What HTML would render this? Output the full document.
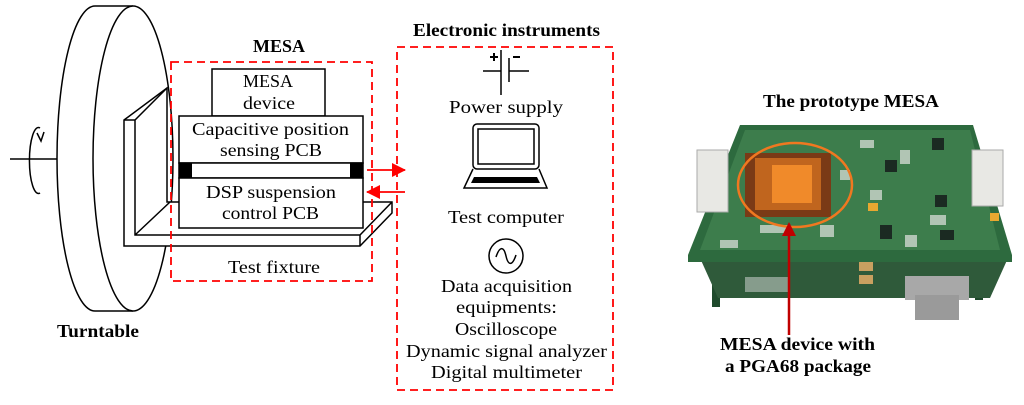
<!DOCTYPE html>
<html><head><meta charset="utf-8"><style>
body{margin:0;background:#fff;}
svg text{font-family:"Liberation Serif",serif;fill:#000;}
</style></head><body>
<svg width="1024" height="400" viewBox="0 0 1024 400" xmlns="http://www.w3.org/2000/svg">
<defs>
<marker id="ar" markerWidth="14" markerHeight="14" refX="13" refY="7" orient="auto" markerUnits="userSpaceOnUse"><path d="M0,0 L14,7 L0,14 Z" fill="#f00"/></marker>
<marker id="ar2" markerWidth="14" markerHeight="14" refX="12" refY="7" orient="auto" markerUnits="userSpaceOnUse"><path d="M0,0 L14,7 L0,14 Z" fill="#c00000"/></marker>
</defs>
<g fill="none" stroke="#000" stroke-width="1.5">
<path d="M95,6 L133,6 M95,311 L133,311"/>
<path d="M95,6 A38,152.5 0 0 0 95,311"/>
<ellipse cx="133" cy="158.5" rx="40" ry="152.5" fill="#fff"/>
<line x1="10" y1="159" x2="57" y2="159"/>
<path d="M40,128 A9,33 0 1 0 40,193" />
<path d="M37,133 L41,141 L44,132" />
<path d="M124,120 L167,88 L167,202 L392,202 L392,213 L360,246 L124,246 Z" fill="#fff"/>
<path d="M124,120 L135,120 L167,88 M135,120 L135,235 L360,235 L392,202 M135,235 L170,202 M360,235 L360,246"/>
<rect x="212" y="69" width="113" height="47" fill="#fff"/>
<rect x="179" y="116" width="184" height="47" fill="#fff"/>
<rect x="179" y="163" width="184" height="15" fill="#fff"/>
<rect x="179" y="178" width="184" height="50" fill="#fff"/>
</g>
<rect x="179" y="163" width="13" height="15" fill="#000"/>
<rect x="350" y="163" width="13" height="15" fill="#000"/>
<rect x="171" y="62" width="201" height="219" fill="none" stroke="#f00" stroke-width="1.8" stroke-dasharray="8,5"/>
<rect x="397" y="47" width="216" height="343" fill="none" stroke="#f00" stroke-width="1.8" stroke-dasharray="8,5"/>
<line x1="367" y1="170" x2="405" y2="170" stroke="#f00" stroke-width="1.8" marker-end="url(#ar)"/>
<line x1="405" y1="192" x2="367" y2="192" stroke="#f00" stroke-width="1.8" marker-end="url(#ar)"/>
<g font-size="18">
<text x="253" y="52" font-weight="bold" textLength="52" lengthAdjust="spacingAndGlyphs">MESA</text>
<text x="243" y="87" textLength="50" lengthAdjust="spacingAndGlyphs">MESA</text>
<text x="243" y="109" textLength="52" lengthAdjust="spacingAndGlyphs">device</text>
<text x="192" y="135" textLength="157" lengthAdjust="spacingAndGlyphs">Capacitive position</text>
<text x="220" y="156" textLength="102" lengthAdjust="spacingAndGlyphs">sensing PCB</text>
<text x="206" y="198" textLength="130" lengthAdjust="spacingAndGlyphs">DSP suspension</text>
<text x="222" y="219" textLength="97" lengthAdjust="spacingAndGlyphs">control PCB</text>
<text x="228" y="273" textLength="92" lengthAdjust="spacingAndGlyphs">Test fixture</text>
<text x="57" y="337" font-weight="bold" textLength="82" lengthAdjust="spacingAndGlyphs">Turntable</text>
<text x="413" y="36" font-weight="bold" textLength="187" lengthAdjust="spacingAndGlyphs">Electronic instruments</text>
<text x="449" y="113" textLength="114" lengthAdjust="spacingAndGlyphs">Power supply</text>
<text x="448" y="223" textLength="116" lengthAdjust="spacingAndGlyphs">Test computer</text>
<text x="441" y="292" textLength="131" lengthAdjust="spacingAndGlyphs">Data acquisition</text>
<text x="456" y="313" textLength="101" lengthAdjust="spacingAndGlyphs">equipments:</text>
<text x="455" y="335" textLength="102" lengthAdjust="spacingAndGlyphs">Oscilloscope</text>
<text x="406" y="357" textLength="201" lengthAdjust="spacingAndGlyphs">Dynamic signal analyzer</text>
<text x="431" y="378" textLength="151" lengthAdjust="spacingAndGlyphs">Digital multimeter</text>
<text x="763" y="107" font-weight="bold" textLength="176" lengthAdjust="spacingAndGlyphs">The prototype MESA</text>
<text x="720" y="350" font-weight="bold" textLength="155" lengthAdjust="spacingAndGlyphs">MESA device with</text>
<text x="725" y="372" font-weight="bold" textLength="146" lengthAdjust="spacingAndGlyphs">a PGA68 package</text>
</g>
<g stroke="#000" stroke-width="1.5" fill="none">
<line x1="483" y1="71" x2="501" y2="71"/><line x1="509" y1="71" x2="529" y2="71"/>
<line x1="501" y1="50" x2="501" y2="95"/><line x1="509" y1="58" x2="509" y2="82"/>
<line x1="490" y1="57" x2="498" y2="57" stroke-width="2"/><line x1="494" y1="53" x2="494" y2="61" stroke-width="2"/>
<line x1="513" y1="57" x2="520" y2="57" stroke-width="2"/>
<rect x="473" y="124" width="66" height="45" rx="4"/>
<rect x="478" y="129" width="56" height="35"/>
<path d="M473,169 L464,188 L547,188 L539,169"/>
</g>
<path d="M474,177 L537,177 L540,183 L471,183 Z" fill="#000"/>
<circle cx="506" cy="256" r="17" fill="none" stroke="#000" stroke-width="1.5"/>
<path d="M496,257 C500,245 504,247 506,256 C508,265 512,267 516,255" fill="none" stroke="#000" stroke-width="1.5"/>
<rect x="712" y="255" width="8" height="52" fill="#1f4a2c"/>
<rect x="975" y="250" width="8" height="50" fill="#1f4a2c"/>
<path d="M700,258 L1008,258 L990,298 L718,298 Z" fill="#2f5a3a"/>
<path d="M740,125 L973,125 L1012,255 L1012,262 L688,262 L688,255 Z" fill="#2d6a3e"/>
<path d="M745,130 L970,130 L1000,250 L700,250 Z" fill="#3d7d4c"/>
<g fill="#cfd8cf" opacity="0.8">
<rect x="860" y="140" width="14" height="8"/><rect x="900" y="150" width="10" height="14"/><rect x="870" y="190" width="12" height="10"/><rect x="930" y="215" width="16" height="10"/><rect x="760" y="225" width="30" height="8"/><rect x="820" y="225" width="14" height="12"/><rect x="840" y="170" width="10" height="10"/><rect x="905" y="235" width="12" height="12"/><rect x="720" y="240" width="18" height="8"/>
</g>
<g fill="#1b2a22"><rect x="932" y="138" width="12" height="12"/><rect x="935" y="195" width="12" height="12"/><rect x="940" y="230" width="14" height="10"/><rect x="880" y="225" width="12" height="14"/><rect x="885" y="160" width="12" height="12"/></g>
<rect x="697" y="150" width="31" height="62" fill="#e8e8e4" stroke="#aaa"/>
<rect x="972" y="150" width="31" height="56" fill="#e8e8e4" stroke="#aaa"/>
<rect x="745" y="153" width="86" height="64" fill="#7a3a16"/>
<rect x="755" y="158" width="66" height="52" fill="#c0651e"/>
<rect x="772" y="165" width="40" height="38" fill="#f08a2a"/>
<rect x="868" y="203" width="10" height="8" fill="#e8a830"/><rect x="990" y="213" width="9" height="8" fill="#e8a830"/>
<rect x="859" y="262" width="14" height="9" fill="#c9a060"/><rect x="859" y="275" width="14" height="9" fill="#c9a060"/>
<rect x="745" y="277" width="45" height="15" fill="#ddd" opacity="0.5"/>
<rect x="905" y="276" width="64" height="24" fill="#a8a8a8"/>
<rect x="915" y="295" width="44" height="25" fill="#9a9a9a"/>
<ellipse cx="795" cy="185" rx="57" ry="42" fill="none" stroke="#f07820" stroke-width="2.5"/>
<line x1="789" y1="335" x2="789" y2="224" stroke="#c00000" stroke-width="2.5" marker-end="url(#ar2)"/>
</svg>
</body></html>
